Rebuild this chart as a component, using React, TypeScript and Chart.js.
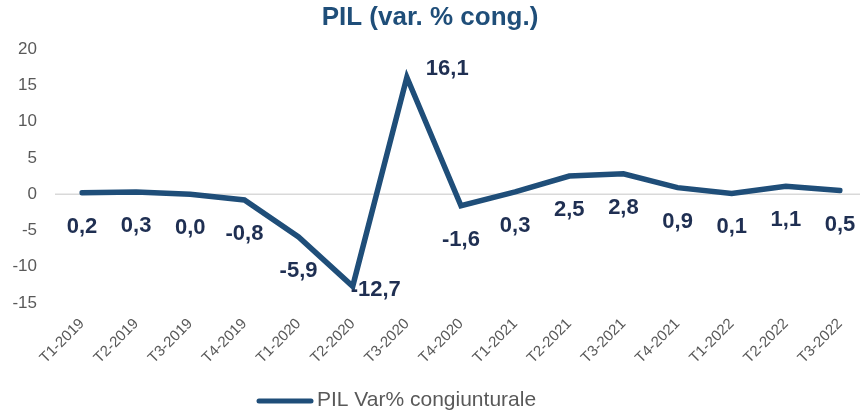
import React, { useEffect, useRef } from "react";
import { Chart, registerables } from "chart.js";

Chart.register(...registerables);

const categories = [
  "T1-2019", "T2-2019", "T3-2019", "T4-2019",
  "T1-2020", "T2-2020", "T3-2020", "T4-2020",
  "T1-2021", "T2-2021", "T3-2021", "T4-2021",
  "T1-2022", "T2-2022", "T3-2022",
];
const pilValues = [0.2, 0.3, 0.0, -0.8, -5.9, -12.7, 16.1, -1.6, 0.3, 2.5, 2.8, 0.9, 0.1, 1.1, 0.5];
const yTicks = [-15, -10, -5, 0, 5, 10, 15, 20];
const titleText = "PIL (var. % cong.)";
const seriesName = "PIL Var% congiunturale";

// label placement (style only)
const labelPlacement = ["below", "below", "below", "below", "below", "trough", "peak", "below", "below", "below", "below", "below", "below", "below", "below"];

const FONT = "'Liberation Sans', Arial, sans-serif";
const LINE_COLOR = "#1f4e79";
const LABEL_COLOR = "#1f2f52";
const GRAY = "#595959";

const decorPlugin = {
  id: "decor",
  beforeDatasetsDraw(chart: any) {
    const { ctx, scales } = chart;
    const y0 = scales.y.getPixelForValue(0);
    ctx.save();
    ctx.strokeStyle = "#d9d9d9";
    ctx.lineWidth = 1.5;
    ctx.beginPath();
    ctx.moveTo(55, y0);
    ctx.lineTo(860, y0);
    ctx.stroke();
    ctx.restore();
  },
  afterDatasetsDraw(chart: any) {
    const { ctx } = chart;
    const meta = chart.getDatasetMeta(0);
    ctx.save();
    ctx.font = `bold 22px ${FONT}`;
    ctx.fillStyle = LABEL_COLOR;
    ctx.textBaseline = "middle";
    meta.data.forEach((pt: any, i: number) => {
      const txt = pilValues[i].toFixed(1).replace(".", ",");
      const p = labelPlacement[i];
      if (p === "peak") {
        ctx.textAlign = "left";
        ctx.fillText(txt, pt.x + 19, pt.y - 8);
      } else if (p === "trough") {
        ctx.textAlign = "left";
        ctx.fillText(txt, pt.x - 2, pt.y + 4);
      } else {
        ctx.textAlign = "center";
        ctx.fillText(txt, pt.x, pt.y + 34);
      }
    });
    ctx.restore();
  },
  afterDraw(chart: any) {
    const { ctx } = chart;
    ctx.save();
    ctx.font = `bold 26px ${FONT}`;
    ctx.fillStyle = LINE_COLOR;
    ctx.textAlign = "center";
    ctx.textBaseline = "middle";
    ctx.fillText(titleText, 430, 18);
    ctx.strokeStyle = LINE_COLOR;
    ctx.lineWidth = 5;
    ctx.lineCap = "round";
    ctx.beginPath();
    ctx.moveTo(259, 401);
    ctx.lineTo(311, 401);
    ctx.stroke();
    ctx.font = `21px ${FONT}`;
    ctx.fillStyle = GRAY;
    ctx.textAlign = "left";
    ctx.fillText(seriesName, 317, 400);
    ctx.restore();
  },
};

export default function App() {
  const ref = useRef<HTMLCanvasElement | null>(null);
  useEffect(() => {
    if (!ref.current) return;
    const chart = new Chart(ref.current, {
      type: "line",
      data: {
        labels: categories,
        datasets: [
          {
            label: seriesName,
            data: pilValues,
            borderColor: LINE_COLOR,
            backgroundColor: LINE_COLOR,
            borderWidth: 5.5,
            pointRadius: 0,
            tension: 0,
            borderCapStyle: "round",
          },
        ],
      },
      options: {
        responsive: false,
        animation: false,
        layout: { padding: { top: 49, right: 20, left: 0, bottom: 0 } },
        plugins: {
          legend: { display: false },
          title: { display: false },
          tooltip: { enabled: false },
        },
        scales: {
          x: {
            type: "category",
            offset: false,
            grid: { display: false, drawTicks: false },
            border: { display: false },
            ticks: {
              autoSkip: false,
              maxRotation: 45,
              minRotation: 45,
              padding: 12,
              color: GRAY,
              font: { family: FONT, size: 15 },
            },
            afterFit(scale: any) {
              scale.height = 110;
              scale.paddingLeft = 0;
              scale.paddingRight = 0;
            },
          },
          y: {
            min: -15,
            max: 20,
            grid: { display: false, drawTicks: false },
            border: { display: false },
            afterBuildTicks(scale: any) {
              scale.ticks = yTicks.map((v) => ({ value: v }));
            },
            ticks: {
              padding: 45,
              color: GRAY,
              font: { family: FONT, size: 17 },
            },
            afterFit(scale: any) {
              scale.width = 82;
              scale.paddingTop = 0;
              scale.paddingBottom = 0;
            },
          },
        },
      },
      plugins: [decorPlugin],
    });
    return () => chart.destroy();
  }, []);
  return (
    <canvas
      ref={ref}
      width={860}
      height={413}
      style={{ position: "absolute", left: 0, top: 0, width: 860, height: 413 }}
    />
  );
}
